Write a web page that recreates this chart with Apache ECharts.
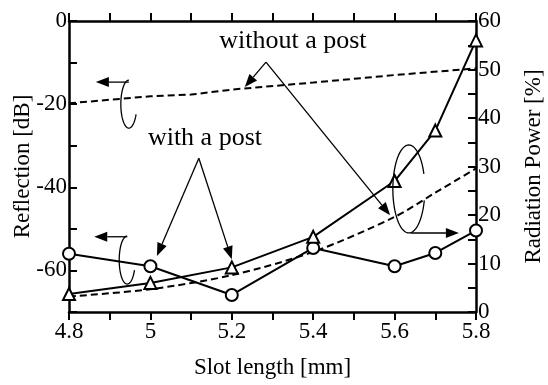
<!DOCTYPE html>
<html>
<head>
<meta charset="utf-8">
<script src="https://cdn.jsdelivr.net/npm/echarts@6/dist/echarts.min.js"></script>
<style>
  html, body { margin: 0; padding: 0; background: #fff; }
  #chart { width: 548px; height: 385px; }
</style>
</head>
<body>
<div id="chart"></div>
<script>
// slot length [mm] where markers were measured
var slotLength = [4.8, 5.0, 5.2, 5.4, 5.6, 5.7, 5.8];
var reflWithPost = [-56, -59, -65.9, -54.6, -59, -55.8, -50.4];
var powerWithPost = [3.7, 6.0, 9.2, 15.5, 27.0, 37.4, 56.0];

// dashed curves (without a post)
var slotLengthRefl = [4.8, 5.0, 5.1, 5.2, 5.4, 5.6, 5.8];
var reflWithoutPost = [-19.8, -18.1, -17.7, -16.5, -14.8, -13.0, -11.4];
var slotLengthPower = [4.8, 5.0, 5.2, 5.4, 5.6, 5.7, 5.8];
var powerWithoutPost = [3.2, 4.7, 7.6, 12.4, 19.6, 24.6, 29.6];

// tick labels
var xTickLabels = [4.8, 5, 5.2, 5.4, 5.6, 5.8];
var leftTickLabels = [0, -20, -40, -60];
var rightTickLabels = [0, 10, 20, 30, 40, 50, 60];

var FONT = 'Liberation Serif';
var FS = 23;

function pairs(xs, ys) {
  return xs.map(function (x, i) { return [x, ys[i]]; });
}
function hasLabel(list, v) {
  return list.some(function (t) { return Math.abs(t - v) < 1e-6; });
}

var chart = echarts.init(document.getElementById('chart'));

var axisLine = { show: true, lineStyle: { color: '#000', width: 2.5 } };
var axisTick = { show: true, inside: true, length: 8, lineStyle: { color: '#000', width: 2 } };
var labelStyle = { color: '#000', fontFamily: FONT, fontSize: FS };

var option = {
  animation: false,
  backgroundColor: '#fff',
  textStyle: { fontFamily: FONT },
  grid: { left: 69, right: 72, top: 21, bottom: 73, show: false, containLabel: false, outerBoundsMode: 'none' },
  xAxis: [{
    type: 'value', min: 4.8, max: 5.8, interval: 0.1, position: 'bottom',
    name: 'Slot length [mm]', nameLocation: 'middle', nameGap: 44, nameMoveOverlap: false,
    nameTextStyle: labelStyle,
    axisLine: axisLine, axisTick: axisTick, splitLine: { show: false },
    axisLabel: Object.assign({
      margin: 8,
      formatter: function (v) { return hasLabel(xTickLabels, v) ? String(+v.toFixed(1)) : ''; }
    }, labelStyle)
  }, {
    type: 'value', min: 4.8, max: 5.8, interval: 0.1, position: 'top',
    axisLine: axisLine, axisTick: axisTick, axisLabel: { show: false }, splitLine: { show: false }
  }],
  yAxis: [{
    type: 'value', min: -70, max: 0, interval: 10, position: 'left',
    name: 'Reflection [dB]', nameLocation: 'middle', nameGap: 35, nameMoveOverlap: false,
    nameTextStyle: labelStyle,
    axisLine: axisLine, axisTick: axisTick, splitLine: { show: false },
    axisLabel: Object.assign({
      margin: 2,
      formatter: function (v) { return hasLabel(leftTickLabels, v) ? String(v) : ''; }
    }, labelStyle)
  }, {
    type: 'value', min: 0, max: 60, interval: 5, position: 'right',
    name: 'Radiation Power [%]', nameLocation: 'middle', nameGap: 46, nameRotate: 90, nameMoveOverlap: false,
    nameTextStyle: labelStyle,
    axisLine: axisLine, axisTick: axisTick, splitLine: { show: false },
    axisLabel: Object.assign({
      margin: 2,
      formatter: function (v) { return hasLabel(rightTickLabels, v) ? String(v) : ''; }
    }, labelStyle)
  }],
  series: [{
    name: 'Reflection without a post', type: 'line', yAxisIndex: 0,
    data: pairs(slotLengthRefl, reflWithoutPost), showSymbol: false,
    lineStyle: { color: '#000', width: 2, type: [7, 4] }, z: 3
  }, {
    name: 'Radiation power without a post', type: 'line', yAxisIndex: 1,
    data: pairs(slotLengthPower, powerWithoutPost), showSymbol: false, smooth: 0.3,
    lineStyle: { color: '#000', width: 2, type: [7, 4] }, z: 3
  }, {
    name: 'Reflection with a post', type: 'line', yAxisIndex: 0,
    data: pairs(slotLength, reflWithPost),
    symbol: 'circle', symbolSize: 12, showAllSymbol: true,
    itemStyle: { color: '#fff', borderColor: '#000', borderWidth: 2 },
    lineStyle: { color: '#000', width: 2 }, z: 4
  }, {
    name: 'Radiation power with a post', type: 'line', yAxisIndex: 1,
    data: pairs(slotLength, powerWithPost),
    symbol: 'triangle', symbolSize: 12, showAllSymbol: true,
    itemStyle: { color: '#fff', borderColor: '#000', borderWidth: 2 },
    lineStyle: { color: '#000', width: 2 }, z: 4
  }]
};
chart.setOption(option);

// annotation anchors in (slot length, reflection dB) units
function px(p) {
  return chart.convertToPixel({ xAxisIndex: 0, yAxisIndex: 0 }, p);
}

var elements = [];
var ink = { stroke: '#000', lineWidth: 1.3, fill: null };

function text(str, p) {
  var q = px(p);
  elements.push({
    type: 'text', x: q[0], y: q[1], z: 10,
    style: { text: str, fill: '#000', fontFamily: FONT, fontSize: 26, align: 'center', verticalAlign: 'middle' }
  });
}
function arrow(from, to) {
  var a = px(from), b = px(to);
  var dx = b[0] - a[0], dy = b[1] - a[1];
  var len = Math.sqrt(dx * dx + dy * dy);
  var ux = dx / len, uy = dy / len;
  var L = 13, W = 5;
  var bx = b[0] - ux * L, by = b[1] - uy * L;
  elements.push({ type: 'polyline', z: 10, shape: { points: [a, [bx, by]] }, style: ink });
  elements.push({
    type: 'polygon', z: 10,
    shape: { points: [b, [bx - uy * W, by + ux * W], [bx + uy * W, by - ux * W]] },
    style: { fill: '#000' }
  });
}
function vee(apex, left, right) {
  arrow(apex, left);
  arrow(apex, right);
}
// open ellipse (rotation symbol), angles in degrees, counter-clockwise on screen
function openEllipse(center, rx, ry, t0, t1) {
  var c = px(center), pts = [];
  for (var t = t0; t <= t1; t += 5) {
    var r = t * Math.PI / 180;
    pts.push([c[0] + rx * Math.cos(r), c[1] - ry * Math.sin(r)]);
  }
  elements.push({ type: 'polyline', z: 10, shape: { points: pts }, style: ink });
}

text('without a post', [5.350, -4.9]);
vee([5.284, -9.9], [5.232, -15.9], [5.589, -46.7]);

text('with a post', [5.134, -28.3]);
vee([5.119, -33.0], [5.016, -56.5], [5.200, -57.3]);

openEllipse([4.947, -20.0], 8, 24, 90, 335);
arrow([4.947, -14.7], [4.866, -14.7]);

openEllipse([4.943, -57.5], 8, 24, 90, 335);
arrow([4.943, -51.9], [4.862, -51.9]);

openEllipse([5.635, -40.4], 16, 44, 20, 345);
arrow([5.640, -51.0], [5.758, -51.0]);

chart.setOption({ graphic: { elements: elements } });
</script>
</body>
</html>
